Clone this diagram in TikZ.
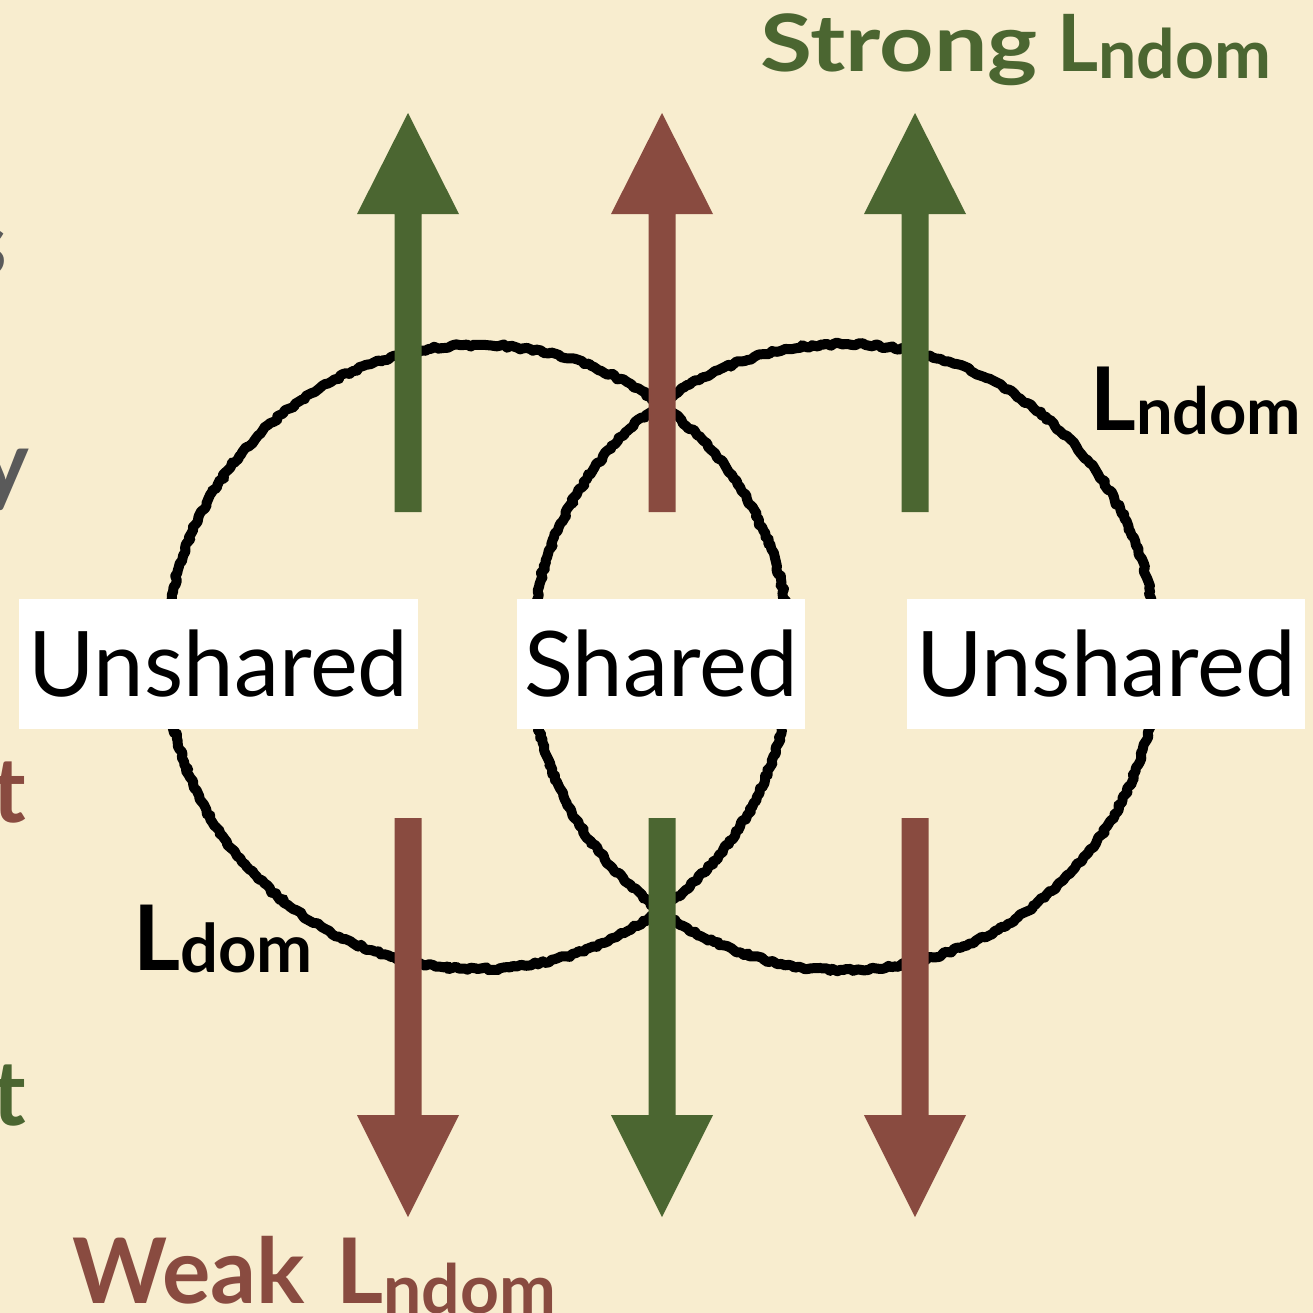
\documentclass[tikz,border=0pt]{standalone}
\usepackage{fontspec}
\setmainfont{Lato}
\usepackage{graphicx}
\usepackage{xcolor}
\definecolor{paper}{HTML}{F8EDCF}
\definecolor{leaf}{HTML}{4B6631}
\definecolor{brick}{HTML}{894B40}
\definecolor{slate}{HTML}{5A5A5A}
\usepackage{tikz}
\usetikzlibrary{positioning,decorations.pathmorphing}
% L with a lowered, smaller tail: [drop]{scale}{text}
\newcommand\Lsub[3][0.1em]{L\raisebox{-#1}{\scalebox{#2}{#3}}}

\begin{document}
\begin{tikzpicture}[x=0.2mm,y=-0.2mm,
    setbox/.style={fill=white,inner sep=0pt,minimum width=79.6mm,minimum height=26mm,
      text height=13mm,text depth=0pt,font=\fontsize{51.5}{60}\selectfont},
    headline/.style={anchor=base west,inner sep=0pt,font=\bfseries\fontsize{#1}{60}\selectfont},
    frag/.style={anchor=base east,inner sep=0pt,font=\bfseries\fontsize{51.5}{60}\selectfont},
    venn/.style={line width=2mm,line join=round,
      decorate,decoration={random steps,segment length=2pt,amplitude=0.9pt}}]
  \useasboundingbox (0,0) rectangle (1313,1313);
  \clip (0,0) rectangle (1313,1313);
  \fill[paper] (0,0) rectangle (1313,1313);

  % bits of the slide text cut off at the left
  \node[frag,slate] (fragS) at (8,275) {s};
  \node[frag,slate] (fragY) at (30,495) {y};
  \node[frag,brick] (fragT) at (27,822) {t};
  \node[frag,leaf] (fragU) at (27,1125) {t};

  % the two sets
  \draw[venn] (478,657) circle[radius=312];
  \draw[venn] (844,657) circle[radius=313];

  % block arrows: up above the boxes, down below them
  \foreach \x/\oben/\unten in {408/leaf/brick, 662/brick/leaf, 915/leaf/brick} {
    \fill[\oben] (\x-13.5,512) -- (\x-13.5,214) -- (\x-51,214) -- (\x,113)
      -- (\x+51,214) -- (\x+13.5,214) -- (\x+13.5,512) -- cycle;
    \fill[\unten] (\x-13.5,818) -- (\x-13.5,1115) -- (\x-51,1115) -- (\x,1217)
      -- (\x+51,1115) -- (\x+13.5,1115) -- (\x+13.5,818) -- cycle;
  }

  \node[setbox] (unsharedL) at (218.5,664) {Unshared};
  \node[setbox,minimum width=57.6mm] (shared) at (661,664) {Shared};
  \node[setbox] (unsharedR) at (1106,664) {Unshared};

  \node[headline=45,leaf] (strong) at (760,71)
    {\scalebox{1.2}[1]{Strong}\hspace{0.25em}\Lsub[0.1em]{0.86}{ndom}};
  \node[headline=51.5,brick] (weak) at (72,1303)
    {Weak\hspace{0.35em}\Lsub[0.12em]{0.75}{ndom}};
  \node[headline=50] (ndom) at (1090,430) {\Lsub[0.05em]{0.74}{ndom}};
  \node[headline=51.5] (dom) at (133,970) {\Lsub[0.03em]{0.74}{dom}};
\end{tikzpicture}
\end{document}
